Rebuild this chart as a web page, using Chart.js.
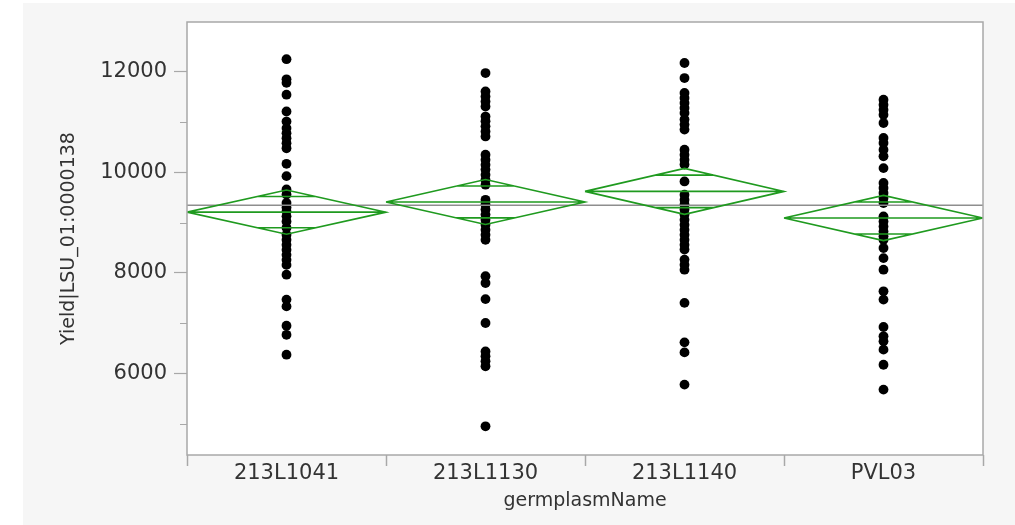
<!DOCTYPE html>
<html>
<head>
<meta charset="utf-8">
<script src="https://cdn.jsdelivr.net/npm/chart.js@4/dist/chart.umd.min.js"></script>
<style>
  html, body { margin: 0; padding: 0; background: #ffffff; }
  #wrap { width: 1015px; height: 525px; }
</style>
</head>
<body>
<div id="wrap"><canvas id="grafica" width="1015" height="525"></canvas></div>
<script>
// categorias y datos
const categorias = ['213L1041', '213L1130', '213L1140', 'PVL03'];

const yield213L1041 = [12250, 11850, 11780, 11545, 11210, 11010, 10880, 10780, 10680, 10580, 10480,
    10170, 9925, 9660, 9560, 9390, 9300, 9225, 9125, 9025, 8900, 8760, 8660, 8560, 8460, 8360, 8260,
    8160, 7965, 7470, 7335, 6950, 6770, 6375];
const yield213L1130 = [11975, 11610, 11510, 11410, 11310, 11110, 11015, 10915, 10815, 10715, 10350,
    10250, 10150, 10055, 9955, 9855, 9755, 9455, 9360, 9260, 9160, 9060, 8960, 8860, 8760, 8660,
    7935, 7800, 7480, 7005, 6440, 6345, 6245, 6145, 4950];
const yield213L1140 = [12175, 11875, 11580, 11480, 11380, 11280, 11180, 11050, 10950, 10850, 10450,
    10350, 10250, 10155, 9820, 9555, 9455, 9360, 9260, 9160, 9060, 8960, 8860, 8760, 8660, 8560,
    8465, 8265, 8165, 8065, 7405, 6620, 6420, 5780];
const yieldPVL03 = [11445, 11345, 11245, 11145, 10980, 10685, 10585, 10450, 10320, 10085, 9790,
    9690, 9590, 9490, 9390, 9125, 9025, 8925, 8825, 8730, 8660, 8495, 8295, 8065, 7635, 7470,
    6925, 6740, 6640, 6475, 6175, 5680];
const grupos = [yield213L1041, yield213L1130, yield213L1140, yieldPVL03];

// medias e intervalos de confianza (mitad) de los diamantes
const medias = [9209, 9412, 9622, 9093];
const mitadIC = [440, 447, 457, 450];
const mediaGeneral = 9344;

const ticksY = [6000, 8000, 10000, 12000];
const ticksYMenores = [5000, 7000, 9000, 11000];

const verde = '#1f9a1f';
const grisBorde = '#a8a8a8';
const textoColor = '#333333';

// puntos
const puntos = [];
grupos.forEach((valores, i) => {
    valores.forEach(v => puntos.push({ x: i + 1, y: v }));
});

// diamantes: contorno, linea de media y marcas de solapamiento
function diamante(i) {
    const c = i + 1, m = medias[i], h = mitadIC[i];
    const ho = h / Math.SQRT2;
    const w = 0.5 * (1 - 1 / Math.SQRT2);
    return [
        { x: c - 0.5, y: m }, { x: c, y: m + h }, { x: c + 0.5, y: m }, { x: c, y: m - h }, { x: c - 0.5, y: m },
        { x: c, y: null },
        { x: c - 0.5, y: m }, { x: c + 0.5, y: m },
        { x: c, y: null },
        { x: c - w, y: m + ho }, { x: c + w, y: m + ho },
        { x: c, y: null },
        { x: c - w, y: m - ho }, { x: c + w, y: m - ho }
    ];
}

const datasetsDiamantes = categorias.map((_, i) => ({
    data: diamante(i),
    showLine: true,
    spanGaps: false,
    borderColor: verde,
    borderWidth: 1.6,
    pointRadius: 0,
    fill: false,
    order: 1
}));

const fondoPlugin = {
    id: 'fondo',
    beforeDraw(chart) {
        const { ctx, chartArea: a } = chart;
        ctx.save();
        ctx.fillStyle = '#ffffff';
        ctx.fillRect(0, 0, chart.width, chart.height);
        ctx.fillStyle = '#f6f6f6';
        ctx.fillRect(23, 3, chart.width - 23, chart.height - 3);
        ctx.fillStyle = '#ffffff';
        ctx.fillRect(a.left, a.top, a.right - a.left, a.bottom - a.top);
        ctx.restore();
    },
    afterDraw(chart) {
        const { ctx, chartArea: a } = chart;
        const y = chart.scales.y;
        ctx.save();
        ctx.strokeStyle = grisBorde;
        ctx.lineWidth = 1.5;
        ctx.strokeRect(a.left, a.top, a.right - a.left, a.bottom - a.top);
        // marcas menores del eje y
        ctx.beginPath();
        ticksYMenores.forEach(v => {
            const py = Math.round(y.getPixelForValue(v)) + 0.5;
            ctx.moveTo(a.left - 7, py);
            ctx.lineTo(a.left, py);
        });
        ctx.lineWidth = 1.2;
        ctx.stroke();
        ctx.restore();
    }
};

new Chart(document.getElementById('grafica'), {
    type: 'scatter',
    data: {
        datasets: [
            ...datasetsDiamantes,
            {
                data: [{ x: 0.5, y: mediaGeneral }, { x: 4.5, y: mediaGeneral }],
                showLine: true,
                borderColor: '#8e8e8e',
                borderWidth: 1.5,
                pointRadius: 0,
                order: 2
            },
            {
                data: puntos,
                pointRadius: 4.9,
                pointBackgroundColor: '#000000',
                pointBorderWidth: 0,
                order: 3
            }
        ]
    },
    options: {
        responsive: false,
        animation: false,
        layout: { padding: { top: 22, right: 32, left: 0, bottom: 0 } },
        plugins: {
            legend: { display: false },
            tooltip: { enabled: false }
        },
        scales: {
            x: {
                type: 'linear',
                min: 0.5,
                max: 4.5,
                afterBuildTicks: scale => {
                    const t = [];
                    for (let v = 0.5; v <= 4.5; v += 0.5) t.push({ value: v });
                    scale.ticks = t;
                },
                afterFit: scale => { scale.height = 70; },
                border: { display: false },
                grid: {
                    drawOnChartArea: false,
                    tickLength: 11,
                    tickWidth: 1.5,
                    tickColor: ctx => Number.isInteger(ctx.tick.value) ? 'rgba(0,0,0,0)' : grisBorde
                },
                ticks: {
                    autoSkip: false,
                    maxRotation: 0,
                    padding: -3,
                    color: textoColor,
                    font: { family: 'DejaVu Sans', size: 21, lineHeight: 1 },
                    callback: v => Number.isInteger(v) ? categorias[v - 1] : ''
                },
                title: {
                    display: true,
                    text: 'germplasmName',
                    color: textoColor,
                    font: { family: 'DejaVu Sans', size: 19 },
                    padding: { top: 0, bottom: 13 }
                }
            },
            y: {
                min: 4380,
                max: 12990,
                afterBuildTicks: scale => {
                    scale.ticks = ticksY.map(v => ({ value: v }));
                },
                afterFit: scale => { scale.width = 187; },
                border: { display: false },
                grid: {
                    drawOnChartArea: false,
                    tickLength: 13,
                    tickWidth: 1.2,
                    tickColor: grisBorde
                },
                ticks: {
                    padding: 7,
                    color: textoColor,
                    font: { family: 'DejaVu Sans', size: 21 },
                    callback: v => String(v)
                },
                title: {
                    display: true,
                    text: 'Yield|LSU_01:0000138',
                    color: textoColor,
                    font: { family: 'DejaVu Sans', size: 19 },
                    padding: { top: 58, bottom: 0 }
                }
            }
        }
    },
    plugins: [fondoPlugin]
});
</script>
</body>
</html>
